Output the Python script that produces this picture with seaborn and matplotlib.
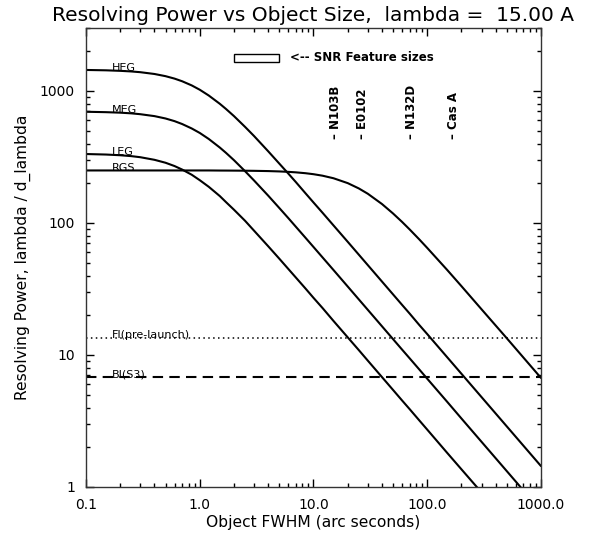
import matplotlib
matplotlib.use("Agg")
import matplotlib.pyplot as plt
from matplotlib.patches import Rectangle
from matplotlib.ticker import FixedLocator, LogLocator, NullFormatter
import pandas as pd
import seaborn as sns

# valores
fwhm = [0.1, 0.15, 0.2, 0.25, 0.3, 0.4, 0.5, 0.6, 0.7, 0.85, 1, 1.2, 1.5, 1.7, 2, 2.5, 3, 4, 5, 6,
        7, 8.5, 10, 12, 15, 20, 25, 30, 40, 50, 60, 70, 85, 100, 150, 200, 300, 500, 1000]
heg = [1443, 1434, 1421, 1406, 1388, 1345, 1295, 1241, 1185, 1102, 1022, 924, 800, 731, 645, 535, 456, 349, 282, 237,
       204, 168, 143, 119.6, 95.8, 72, 57.6, 48, 36, 28.8, 24, 20.6, 16.9, 14.4, 9.6, 7.2, 4.8, 2.88, 1.44]
meg = [696, 691, 685, 677, 667, 645, 619, 591, 562, 520, 481, 433, 373, 340, 299, 247, 210, 161, 130, 109,
       93.6, 77.3, 65.8, 54.9, 44.0, 33.0, 26.4, 22.0, 16.5, 13.2, 11.0, 9.44, 7.78, 6.61, 4.41, 3.30, 2.20, 1.32, 0.66]
leg = [333, 330, 326, 321, 315, 301, 286, 270, 254, 232, 211, 188, 160, 144, 126, 104, 87.5, 66.6, 53.7, 44.9,
       38.6, 31.9, 27.1, 22.7, 18.1, 13.6, 10.9, 9.07, 6.80, 5.44, 4.53, 3.89, 3.20, 2.72, 1.81, 1.36, 0.91, 0.54, 0.27]
rgs = [250, 250, 250, 250, 250, 250, 250, 250, 250, 250, 250, 250, 249.6, 249.5, 249.3, 248.9, 248.4, 247.3, 245.8, 244.0,
       241.9, 238.3, 234.2, 228.2, 218.2, 200.4, 182.8, 166.6, 139.2, 118.1, 102.0, 89.4, 75.2, 64.7, 44.0, 33.2, 22.2, 13.4, 6.7]
instrumentos = ["HEG", "MEG", "LEG", "RGS"]

ccd_nomes = ["FI(pre-launch)", "BI(S3)"]
ccd_r = [13.5, 6.8]

snr_nomes = ["N103B", "E0102", "N132D", "Cas A"]
snr_fwhm = [15.5, 27, 73, 170]

x_ticks = [0.1, 1, 10, 100, 1000]
x_labels = ["0.1", "1.0", "10.0", "100.0", "1000.0"]
y_ticks = [1, 10, 100, 1000]
y_labels = ["1", "10", "100", "1000"]

df = pd.DataFrame({"fwhm": fwhm, "HEG": heg, "MEG": meg, "LEG": leg, "RGS": rgs})
df_long = df.melt(id_vars="fwhm", var_name="inst", value_name="R")

sns.set_style("ticks")
plt.rcParams["font.family"] = ["DejaVu Sans"]
plt.rcParams["text.color"] = "black"
plt.rcParams["axes.labelcolor"] = "black"
plt.rcParams["xtick.color"] = "black"
plt.rcParams["ytick.color"] = "black"

fig = plt.figure(figsize=(5.89, 5.37), dpi=100)
ax = fig.add_axes([86 / 589, 1 - 487 / 537, 455 / 589, 459 / 537])
ax.set_xscale("log")
ax.set_yscale("log")

sns.lineplot(data=df_long, x="fwhm", y="R", hue="inst", hue_order=instrumentos,
             palette=["black"] * 4, linewidth=1.5, legend=False, ax=ax,
             estimator=None, sort=True)

ax.set_xlim(0.1, 1000)
ax.set_ylim(1, 3000)

# linhas CCD
estilos = [(0, (1, 2.2)), (0, (5, 3))]
larguras = [1.1, 1.5]
for nome, r, ls, lw in zip(ccd_nomes, ccd_r, estilos, larguras):
    ax.axhline(r, color="black", ls=ls, lw=lw)
    ax.text(0.17, r * 0.99, nome, fontsize=8, va="baseline", ha="left")

# rotulos das curvas
for nome, serie in zip(instrumentos, [heg, meg, leg, rgs]):
    ax.text(0.17, serie[1] * 0.99, nome, fontsize=8, va="baseline", ha="left")

# caixa e tamanhos das SNR
ax.add_patch(Rectangle((2.0, 1650), 3.0, 270, fill=False, lw=1, ec="black"))
ax.text(6.2, 1790, "<-- SNR Feature sizes", fontsize=8.5, fontweight="semibold",
        va="center", ha="left")
for nome, x in zip(snr_nomes, snr_fwhm):
    ax.text(x, 430, "– " + nome, rotation=90, fontsize=8.5, fontweight="semibold",
            ha="center", va="bottom")

ax.xaxis.set_major_locator(FixedLocator(x_ticks))
ax.set_xticklabels(x_labels)
ax.xaxis.set_minor_locator(LogLocator(base=10, subs=range(2, 10)))
ax.xaxis.set_minor_formatter(NullFormatter())
ax.yaxis.set_major_locator(FixedLocator(y_ticks))
ax.set_yticklabels(y_labels)
ax.yaxis.set_minor_locator(LogLocator(base=10, subs=range(2, 10)))
ax.yaxis.set_minor_formatter(NullFormatter())

ax.tick_params(which="both", direction="in", top=True, right=True, labelsize=10, pad=8)
ax.tick_params(which="major", length=6, width=1)
ax.tick_params(which="minor", length=3, width=1)
for s in ax.spines.values():
    s.set_visible(True)
    s.set_linewidth(1)
    s.set_color("#333333")

ax.set_xlabel("Object FWHM (arc seconds)", fontsize=11.2, labelpad=2)
ax.set_ylabel("Resolving Power, lambda / d_lambda", fontsize=11.2, labelpad=6)
ax.set_title("Resolving Power vs Object Size,  lambda =  15.00 A", fontsize=14.5, pad=5)

fig.savefig("out.png", dpi=100)
